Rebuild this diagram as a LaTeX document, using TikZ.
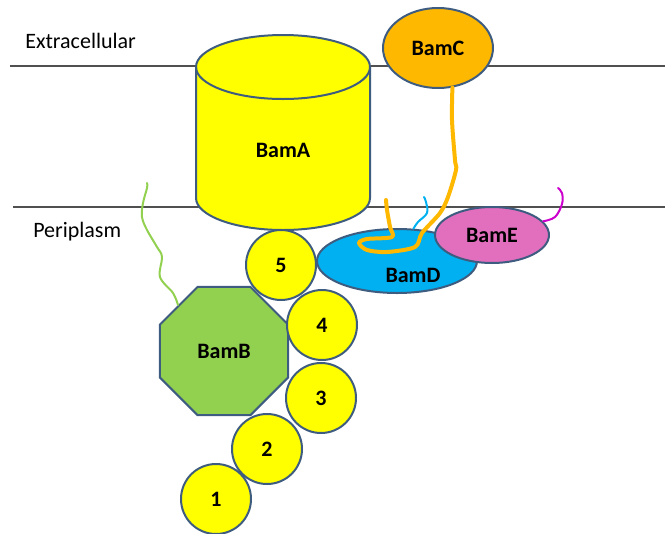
\documentclass[tikz,border=0pt]{standalone}
\usepackage{fontspec}
\setmainfont{Carlito}
\usetikzlibrary{shapes.geometric}
\definecolor{bamyellow}{RGB}{255,255,0}
\definecolor{bamedge}{RGB}{62,92,128}
\definecolor{bamgreen}{RGB}{146,208,80}
\definecolor{bamorange}{RGB}{255,184,0}
\definecolor{bamblue}{RGB}{0,176,240}
\definecolor{bampink}{RGB}{226,110,190}
\definecolor{bammagenta}{RGB}{204,0,204}
\definecolor{membrane}{RGB}{80,80,80}
\tikzset{
  protein/.style={draw=bamedge, line width=1.5pt, inner sep=0pt,
    font=\fontsize{16.5}{18}\selectfont\bfseries},
  potra/.style={protein, circle, fill=bamyellow, minimum size=52.5pt},
  blob/.style={protein, ellipse},
  tether/.style={line width=#1, line cap=round, line join=round},
  tether/.default=1.5pt,
  membraneline/.style={draw=membrane, line width=1.1pt},
  region/.style={anchor=west, inner sep=0pt, font=\fontsize{16.5}{18}\selectfont}
}
\begin{document}
\begin{tikzpicture}[x=0.75pt,y=-0.75pt]
\useasboundingbox (0,0) rectangle (665,533);
% membranes
\draw[membraneline] (10,66) -- (665,66);
\draw[membraneline] (13,207) -- (665,207);
\node[region] (extra) at (25,41) {Extracellular};
\node[region] (peri) at (33,232) {Periplasm};
% BamA barrel
\draw[protein, fill=bamyellow] (196,67) -- (196,198)
  arc[start angle=180, end angle=0, x radius=87, y radius=32] -- (370,67)
  arc[start angle=0, end angle=-180, x radius=87, y radius=32] -- cycle;
\draw[protein] (196,67) arc[start angle=180, end angle=0, x radius=87, y radius=32];
\node[font=\fontsize{16.5}{18}\selectfont\bfseries] (BamA) at (283,150) {BamA};
% BamB and its lipid tail
\node[protein, regular polygon, regular polygon sides=8, minimum size=104pt, fill=bamgreen] (BamB) at (224,351) {BamB};
\coordinate (tipB) at (147,183);
\draw[tether, draw=bamgreen] plot[smooth, tension=0.6] coordinates {(BamB.135) (173,293) (160,277) (162,257) (157,247) (147,230) (142,217) (143,203) (147,188) (tipB)};
% POTRA domains
\node[potra] (P1) at (216,499) {1};
\node[potra] (P2) at (267,449) {2};
\node[potra] (P3) at (321,398) {3};
\node[potra] (P4) at (322,325) {4};
\node[potra] (P5) at (281,265) {5};
% BamD, BamE
\node[blob, fill=bamblue, minimum width=120pt, minimum height=48pt, text depth=0pt] (BamD) at (397,261) {};
\node[font=\fontsize{16.5}{18}\selectfont\bfseries] (labD) at (413,275) {BamD};
\node[blob, fill=bampink, minimum width=85.5pt, minimum height=42pt] (BamE) at (492,235) {BamE};
\coordinate (tipE) at (558,188);
\draw[tether, draw=bammagenta] plot[smooth, tension=0.6] coordinates {(BamE.15) (555,217) (562,204) (562,193) (tipE)};
\coordinate (tipD) at (424,197);
\draw[tether, draw=bamblue] plot[smooth, tension=0.6] coordinates {(BamD.63) (418,222) (427,213) (426,202) (tipD)};
% BamC and its tether
\node[blob, fill=bamorange, minimum width=82.5pt, minimum height=60pt] (BamC) at (438,48) {BamC};
\coordinate (tipC) at (386,200);
\draw[tether=3pt, draw=bamorange] plot[smooth, tension=0.5] coordinates {(BamC.-70) (452,120) (455,160) (456,170) (448,197) (440,213) (422,233) (415,247) (387,252) (367,250) (359,243) (367,239) (392,237) (390,227) (387,210) (tipC)};
\end{tikzpicture}
\end{document}
